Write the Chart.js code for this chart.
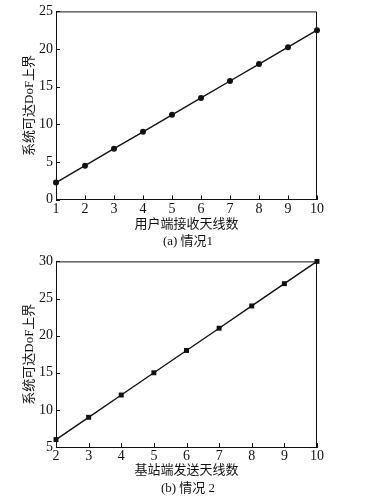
<!DOCTYPE html>
<html>
<head>
<meta charset="utf-8">
<script src="https://cdn.jsdelivr.net/npm/chart.js@4.4.1/dist/chart.umd.min.js"></script>
<style>
  body { margin: 0; background: #fff; width: 372px; height: 502px; position: relative; overflow: hidden; }
  .box { position: absolute; left: 0; width: 372px; }
  .cap { position: absolute; left: 0; width: 372px; text-align: center; font: 13px 'Liberation Serif', 'Noto Sans CJK SC', serif; color: #111; }
</style>
</head>
<body>
<div class="box" style="top:0;height:232px"><canvas id="c1"></canvas></div>
<div class="cap" style="top:230px;left:2px">(a) 情况1</div>
<div class="box" style="top:250px;height:228px"><canvas id="c2"></canvas></div>
<div class="cap" style="top:477px;left:2px">(b) 情况 2</div>
<script>
// 情况1：用户端接收天线数
const usuarioAntenas = [1, 2, 3, 4, 5, 6, 7, 8, 9, 10];
const dofCaso1 = [2.25, 4.5, 6.75, 9, 11.25, 13.5, 15.75, 18, 20.25, 22.5];

// 情况2：基站端发送天线数
const baseAntenas = [2, 3, 4, 5, 6, 7, 8, 9, 10];
const dofCaso2 = [6, 9, 12, 15, 18, 21, 24, 27, 30];

const fuente = "'Liberation Serif', 'Noto Sans CJK SC', serif";
const negro = "#111";

// marco superior/derecho y marcas de tick hacia dentro
const marco = {
  id: "marco",
  afterDraw(chart) {
    const a = chart.chartArea;
    const ctx = chart.ctx;
    const sx = chart.scales.x;
    const sy = chart.scales.y;
    ctx.save();
    ctx.strokeStyle = negro;
    ctx.lineWidth = 1;
    ctx.beginPath();
    ctx.moveTo(a.left, a.top + 0.5);
    ctx.lineTo(a.right - 0.5, a.top + 0.5);
    ctx.lineTo(a.right - 0.5, a.bottom);
    sx.ticks.forEach((t) => {
      const px = Math.round(sx.getPixelForValue(t.value)) + 0.5;
      ctx.moveTo(px, a.bottom);
      ctx.lineTo(px, a.bottom - 4);
    });
    sy.ticks.forEach((t) => {
      const py = Math.round(sy.getPixelForValue(t.value)) + 0.5;
      ctx.moveTo(a.left, py);
      ctx.lineTo(a.left + 4, py);
    });
    ctx.stroke();
    ctx.restore();
  }
};

function grafico(id, xs, ys, xMin, yMin, yMax, tituloX, estilo, padTop) {
  const ctx = document.getElementById(id).getContext("2d");
  return new Chart(ctx, {
    type: "line",
    data: {
      datasets: [{
        data: xs.map((x, i) => ({ x: x, y: ys[i] })),
        borderColor: negro,
        borderWidth: 1.4,
        backgroundColor: negro,
        pointStyle: estilo,
        pointRadius: estilo === "rect" ? 3.5 : 3,
        pointBorderWidth: 0,
        tension: 0,
        clip: false
      }]
    },
    options: {
      responsive: true,
      maintainAspectRatio: false,
      animation: false,
      events: [],
      layout: { padding: { left: 0, right: 55, top: padTop, bottom: 0 } },
      plugins: { legend: { display: false }, tooltip: { enabled: false } },
      scales: {
        x: {
          type: "linear",
          min: xMin,
          max: 10,
          afterFit: (s) => { s.height = ctx.canvas.parentNode.clientHeight - padTop - 190; },
          ticks: { stepSize: 1, color: negro, padding: 1, font: { family: fuente, size: 14 } },
          grid: { drawOnChartArea: false, drawTicks: false },
          border: { color: negro, width: 1 },
          title: { display: true, text: tituloX, color: negro, padding: 0, font: { family: fuente, size: 13 } }
        },
        y: {
          min: yMin,
          max: yMax,
          afterFit: (s) => { s.width = 56; },
          ticks: { stepSize: 5, color: negro, padding: 3, font: { family: fuente, size: 14 } },
          grid: { drawOnChartArea: false, drawTicks: false },
          border: { color: negro, width: 1 },
          title: { display: true, text: "系统可达DoF上界", color: negro, padding: 22, font: { family: fuente, size: 13 } }
        }
      }
    },
    plugins: [marco]
  });
}

grafico("c1", usuarioAntenas, dofCaso1, 1, 0, 25, "用户端接收天线数", "circle", 9.5);
grafico("c2", baseAntenas, dofCaso2, 2, 5, 30, "基站端发送天线数", "rect", 7);
</script>
</body>
</html>
